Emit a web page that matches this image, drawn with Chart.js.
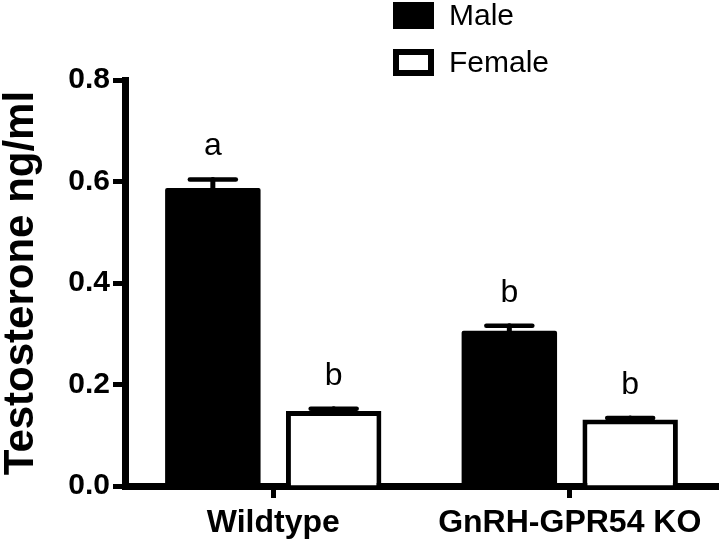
<!DOCTYPE html>
<html>
<head>
<meta charset="utf-8">
<title>Testosterone</title>
<script src="https://cdn.jsdelivr.net/npm/chart.js@4/dist/chart.umd.min.js"></script>
<style>
  html, body { margin: 0; padding: 0; background: #fff; }
  #wrap { width: 720px; height: 542px; position: relative; }
</style>
</head>
<body>
<div id="wrap"><canvas id="chart"></canvas></div>
<script>
const groups = ['Wildtype', 'GnRH-GPR54 KO']
const seriesNames = ['Male', 'Female']
const maleValues = [0.587, 0.306]
const maleErrors = [0.017, 0.010]
const femaleValues = [0.148, 0.131]
const femaleErrors = [0.004, 0.003]
const maleLetters = ['a', 'b']
const femaleLetters = ['b', 'b']
const yTicks = [0, 0.2, 0.4, 0.6, 0.8]

const FONT = "'Liberation Sans', Arial, Helvetica, sans-serif"
Chart.defaults.font.family = FONT
Chart.defaults.color = '#000'

const errors = [maleErrors, femaleErrors]
const letters = [maleLetters, femaleLetters]

// error bars + significance letters, drawn from the bar elements
const errorBars = {
    id: 'errorBars',
    afterDatasetsDraw(chart) {
        const ctx = chart.ctx
        const y = chart.scales.y
        ctx.save()
        ctx.strokeStyle = '#000'
        ctx.fillStyle = '#000'
        ctx.lineCap = 'round'
        chart.data.datasets.forEach((ds, i) => {
            const meta = chart.getDatasetMeta(i)
            meta.data.forEach((bar, j) => {
                const top = y.getPixelForValue(ds.data[j] + errors[i][j])
                ctx.lineWidth = 5
                ctx.beginPath()
                ctx.moveTo(bar.x, bar.y)
                ctx.lineTo(bar.x, top)
                ctx.stroke()
                ctx.lineWidth = 4.5
                ctx.beginPath()
                ctx.moveTo(bar.x - 23, top)
                ctx.lineTo(bar.x + 23, top)
                ctx.stroke()
                ctx.font = 'normal 32px ' + FONT
                ctx.textAlign = 'center'
                ctx.textBaseline = 'alphabetic'
                ctx.fillText(letters[i][j], bar.x, top - 24)
            })
        })
        ctx.restore()
    }
}

// stacked legend in the top right corner
const boxLegend = {
    id: 'boxLegend',
    afterDraw(chart) {
        const ctx = chart.ctx
        ctx.save()
        chart.data.datasets.forEach((ds, i) => {
            const bx = 393, by = 2 + i * 47, bw = 41, bh = 27
            ctx.fillStyle = ds.borderColor
            ctx.fillRect(bx, by, bw, bh)
            if (ds.borderWidth) {
                ctx.fillStyle = ds.backgroundColor
                ctx.fillRect(bx + 6, by + 6, bw - 12, bh - 12)
            }
            ctx.fillStyle = '#000'
            ctx.font = 'normal 30px ' + FONT
            ctx.textAlign = 'left'
            ctx.textBaseline = 'middle'
            ctx.fillText(ds.label, 449, by + bh / 2 + 1)
        })
        ctx.restore()
    }
}

new Chart(document.getElementById('chart'), {
    type: 'bar',
    data: {
        labels: groups,
        datasets: [{
            label: seriesNames[0],
            data: maleValues,
            backgroundColor: '#000',
            borderColor: '#000',
            borderWidth: 0,
            borderRadius: 2
        }, {
            label: seriesNames[1],
            data: femaleValues,
            backgroundColor: '#fff',
            borderColor: '#000',
            borderWidth: 5,
            borderSkipped: 'bottom'
        }]
    },
    options: {
        responsive: true,
        maintainAspectRatio: false,
        animation: false,
        categoryPercentage: 0.815,
        barPercentage: 0.79,
        layout: { padding: { top: 80, right: 2, bottom: 0, left: 0 } },
        plugins: {
            legend: { display: false },
            tooltip: { enabled: false }
        },
        scales: {
            x: {
                offset: true,
                grid: {
                    offset: false,
                    drawOnChartArea: false,
                    drawTicks: true,
                    tickLength: 12,
                    tickWidth: 5,
                    tickColor: '#000'
                },
                border: { display: true, color: '#000', width: 7 },
                ticks: {
                    font: { size: 32, weight: 'bold', lineHeight: 1 },
                    padding: 9,
                    maxRotation: 0
                },
                afterFit(scale) { scale.height = 56 }
            },
            y: {
                min: 0,
                max: 0.8,
                grid: {
                    drawOnChartArea: false,
                    drawTicks: true,
                    tickLength: 12,
                    tickWidth: 5,
                    tickColor: '#000'
                },
                border: { display: true, color: '#000', width: 7 },
                ticks: {
                    font: { size: 30, weight: 'bold' },
                    padding: 3,
                    callback: v => Number(v).toFixed(1)
                },
                afterBuildTicks(scale) { scale.ticks = yTicks.map(v => ({ value: v })) },
                title: {
                    display: true,
                    text: 'Testosterone ng/ml',
                    font: { size: 42, weight: 'bold', lineHeight: 1 },
                    padding: 0
                },
                afterFit(scale) { scale.width = 125 }
            }
        }
    },
    plugins: [errorBars, boxLegend]
})
</script>
</body>
</html>
